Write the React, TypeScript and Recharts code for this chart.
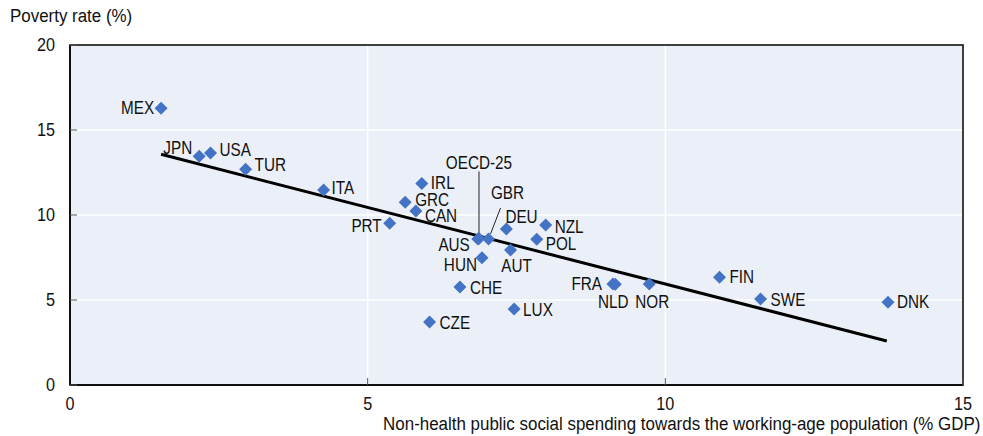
import { ScatterChart, Scatter, XAxis, YAxis, CartesianGrid, ReferenceArea } from 'recharts';

const countries = ['MEX', 'JPN', 'USA', 'TUR', 'ITA', 'IRL', 'GRC', 'CAN', 'PRT', 'AUS', 'OECD-25', 'GBR', 'DEU', 'NZL', 'POL', 'AUT', 'HUN', 'CHE', 'LUX', 'CZE', 'FRA', 'NLD', 'NOR', 'FIN', 'SWE', 'DNK'];
const spending = [1.53, 2.17, 2.36, 2.95, 4.26, 5.91, 5.63, 5.81, 5.37, 6.85, 6.87, 7.03, 7.33, 7.99, 7.84, 7.40, 6.92, 6.55, 7.46, 6.04, 9.12, 9.16, 9.73, 10.91, 11.60, 13.74];
const poverty = [16.28, 13.45, 13.65, 12.69, 11.47, 11.86, 10.75, 10.24, 9.51, 8.59, 8.62, 8.59, 9.18, 9.41, 8.57, 7.94, 7.49, 5.76, 4.47, 3.71, 5.94, 5.92, 5.94, 6.34, 5.06, 4.87];

// fitted line, start and end
const trendX = [1.53, 13.72];
const trendY = [13.57, 2.59];

const xTicks = [0, 5, 10, 15];
const yTicks = [0, 5, 10, 15, 20];

const points = countries.map((name, i) => ({ name, x: spending[i], y: poverty[i] }));
const trend = trendX.map((x, i) => ({ x, y: trendY[i] }));

const BLUE = '#4472C4';
const BG = '#EBF0F8';
const FONT = "'Liberation Sans', Arial, sans-serif";
// no narrow face installed, so squeeze the regular one
const SQUEEZE = 0.85;

type Place = { dx: number; dy: number; anchor: 'start' | 'middle' | 'end'; leader?: [number, number, number, number] };

// where each label sits relative to its marker
const PLACE: Record<string, Place> = {
  MEX: { dx: -7, dy: 0, anchor: 'end' },
  JPN: { dx: -7, dy: -8, anchor: 'end' },
  USA: { dx: 9, dy: -3, anchor: 'start' },
  TUR: { dx: 9, dy: -4, anchor: 'start' },
  ITA: { dx: 8, dy: -2, anchor: 'start' },
  IRL: { dx: 9, dy: 0, anchor: 'start' },
  GRC: { dx: 10, dy: -2, anchor: 'start' },
  CAN: { dx: 9, dy: 5, anchor: 'start' },
  PRT: { dx: -8, dy: 3, anchor: 'end' },
  AUS: { dx: -8, dy: 6, anchor: 'end' },
  'OECD-25': { dx: 0, dy: -75, anchor: 'middle', leader: [0, -67, 0, -3] },
  GBR: { dx: 19, dy: -46, anchor: 'middle', leader: [2, -5, 12, -31] },
  DEU: { dx: -1, dy: -12, anchor: 'start' },
  NZL: { dx: 9, dy: 2, anchor: 'start' },
  POL: { dx: 9, dy: 5, anchor: 'start' },
  AUT: { dx: 6, dy: 16, anchor: 'middle' },
  HUN: { dx: -5, dy: 7, anchor: 'end' },
  CHE: { dx: 10, dy: 1, anchor: 'start' },
  LUX: { dx: 9, dy: 1, anchor: 'start' },
  CZE: { dx: 10, dy: 1, anchor: 'start' },
  FRA: { dx: -11, dy: 0, anchor: 'end' },
  NLD: { dx: -2, dy: 18, anchor: 'middle' },
  NOR: { dx: 3, dy: 18, anchor: 'middle' },
  FIN: { dx: 10, dy: 0, anchor: 'start' },
  SWE: { dx: 10, dy: 1, anchor: 'start' },
  DNK: { dx: 9, dy: 0, anchor: 'start' },
};

function Diamond(props: any) {
  const { cx, cy, payload } = props;
  const r = 6.5;
  const p = PLACE[payload.name] || { dx: 9, dy: 0, anchor: 'start' };
  return (
    <g>
      {p.leader && (
        <line
          x1={cx + p.leader[0]}
          y1={cy + p.leader[1]}
          x2={cx + p.leader[2]}
          y2={cy + p.leader[3]}
          stroke="#222"
          strokeWidth={1}
        />
      )}
      <polygon points={`${cx},${cy - r} ${cx + r},${cy} ${cx},${cy + r} ${cx - r},${cy}`} fill={BLUE} />
      <text
        transform={`translate(${cx + p.dx},${cy + p.dy}) scale(${SQUEEZE},1)`}
        textAnchor={p.anchor}
        dominantBaseline="central"
        fontSize={18}
        fontFamily={FONT}
        fill="#111"
      >
        {payload.name}
      </text>
    </g>
  );
}

function XTick(props: any) {
  const { x, y, payload } = props;
  return (
    <text transform={`translate(${x},${y}) scale(0.9,1)`} textAnchor="middle" dy="0.71em" fontSize={18} fontFamily={FONT} fill="#111">
      {payload.value}
    </text>
  );
}

function YTick(props: any) {
  const { x, y, payload } = props;
  return (
    <text transform={`translate(${x},${y}) scale(0.9,1)`} textAnchor="end" dominantBaseline="central" fontSize={18} fontFamily={FONT} fill="#111">
      {payload.value}
    </text>
  );
}

export default function App() {
  return (
    <div style={{ position: 'absolute', left: 0, top: 0, width: 983, height: 436, fontFamily: FONT, background: '#fff' }}>
      <div
        style={{
          position: 'absolute',
          left: 10,
          top: 6,
          fontSize: 18,
          color: '#111',
          whiteSpace: 'nowrap',
          transform: 'scaleX(0.94)',
          transformOrigin: 'left center',
        }}
      >
        Poverty rate (%)
      </div>
      <div
        style={{
          position: 'absolute',
          right: 3,
          top: 414,
          fontSize: 18,
          color: '#111',
          whiteSpace: 'nowrap',
          transform: 'scaleX(0.94)',
          transformOrigin: 'right center',
        }}
      >
        Non-health public social spending towards the working-age population (% GDP)
      </div>
      <ScatterChart width={983} height={436} margin={{ top: 45, right: 20, bottom: 0, left: 0 }}>
        <CartesianGrid fill={BG} stroke="#fff" strokeWidth={1.5} />
        <XAxis
          type="number"
          dataKey="x"
          domain={[0, 15]}
          ticks={xTicks}
          height={51}
          tickSize={-7}
          tickMargin={19}
          axisLine={{ stroke: '#000', strokeWidth: 1.5 }}
          tickLine={{ stroke: '#555' }}
          tick={<XTick />}
        />
        <YAxis
          type="number"
          dataKey="y"
          domain={[0, 20]}
          ticks={yTicks}
          width={70}
          tickSize={-7}
          tickMargin={22}
          axisLine={{ stroke: '#000', strokeWidth: 1.5 }}
          tickLine={{ stroke: '#555' }}
          tick={<YTick />}
        />
        <ReferenceArea x1={0} x2={15} y1={0} y2={20} fill="none" stroke="#000" strokeWidth={1.5} />
        <Scatter
          data={trend}
          line={{ stroke: '#000', strokeWidth: 3 }}
          shape={() => <g />}
          isAnimationActive={false}
        />
        <Scatter data={points} shape={Diamond} isAnimationActive={false} />
      </ScatterChart>
    </div>
  );
}
